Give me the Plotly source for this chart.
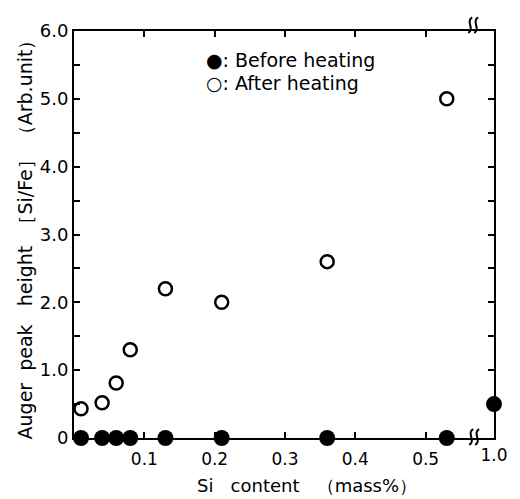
import plotly.graph_objects as go

# ---- data ----
si_content = [0.01, 0.04, 0.06, 0.08, 0.13, 0.21, 0.36, 0.53]
before_heating = [0, 0, 0, 0, 0, 0, 0, 0]
after_heating = [0.43, 0.52, 0.81, 1.3, 2.2, 2.0, 2.6, 5.0]
si_content_high = [1.0]
before_heating_high = [0.5]

x_ticks = [0.1, 0.2, 0.3, 0.4, 0.5]
x_tick_labels = ["0.1", "0.2", "0.3", "0.4", "0.5"]
y_ticks = [0, 0.5, 1, 1.5, 2, 2.5, 3, 3.5, 4, 4.5, 5, 5.5, 6]
y_tick_labels = ["0", "", "1.0", "", "2.0", "", "3.0", "", "4.0", "", "5.0", "", "6.0"]

# page body has an 8px default margin
OFF = 8
W, H = 520 - OFF, 499 - OFF
PL, PR, PT, PB = 74, 498, 21, 438          # plot box in window pixels
L, T = PL - OFF, PT - OFF
R = W - (PR - OFF)
B = H - (PB - OFF)
PW, PH = PR - PL, PB - PT


def fx(px):
    return (px - PL) / PW


def fy(py):
    return (PB - py) / PH


FONT = "DejaVu Sans"

fig = go.Figure()
fig.add_trace(go.Scatter(
    x=si_content, y=after_heating, mode="markers", name="After heating",
    marker=dict(symbol="circle-open", size=13, color="black", line=dict(width=2.5, color="black")),
    cliponaxis=False, showlegend=False))
fig.add_trace(go.Scatter(
    x=si_content, y=before_heating, mode="markers", name="Before heating",
    marker=dict(symbol="circle", size=16, color="black"),
    cliponaxis=False, showlegend=False))
fig.add_trace(go.Scatter(
    x=si_content_high, y=before_heating_high, mode="markers", name="Before heating",
    xaxis="x2", yaxis="y",
    marker=dict(symbol="circle", size=16, color="black"),
    cliponaxis=False, showlegend=False))

# break symbols (two wavy strokes) at top and bottom
shapes = []
for (cx, cy) in [(477, 15), (478, 437)]:
    for dx in (-3, 3):
        x = cx + dx
        path = (f"M {fx(x-2)},{fy(cy+8)} C {fx(x+5)},{fy(cy+4)} "
                f"{fx(x-5)},{fy(cy-4)} {fx(x+2)},{fy(cy-8)}")
        shapes.append(dict(type="path", xref="paper", yref="paper", path=path,
                           line=dict(color="black", width=2)))

annotations = [
    dict(text="Auger  peak   height  ［Si/Fe］ （Arb.unit）", xref="paper", yref="paper",
         x=fx(25), y=fy(230), textangle=-90, showarrow=False,
         font=dict(family=FONT, size=19, color="black"), xanchor="center", yanchor="middle"),
    dict(text="Si   content   （mass%）", xref="paper", yref="paper",
         x=fx(309), y=fy(487), showarrow=False,
         font=dict(family=FONT, size=18, color="black"), xanchor="center", yanchor="middle"),
    dict(text="●: Before heating", xref="paper", yref="paper",
         x=fx(205), y=fy(51), showarrow=False, xanchor="left", yanchor="middle",
         font=dict(family=FONT, size=19, color="black")),
    dict(text="○: After heating", xref="paper", yref="paper",
         x=fx(205), y=fy(74), showarrow=False, xanchor="left", yanchor="middle",
         font=dict(family=FONT, size=19, color="black")),
]

fig.update_layout(
    width=W, height=H,
    margin=dict(l=L, r=R, t=T, b=B),
    paper_bgcolor="white", plot_bgcolor="white",
    font=dict(family=FONT, color="black"),
    xaxis=dict(range=[0, PW / 710], tickvals=x_ticks, ticktext=x_tick_labels,
               ticks="inside", ticklen=6, tickwidth=1.5, tickcolor="black",
               showline=True, linecolor="black", linewidth=2, mirror="ticks",
               showgrid=False, zeroline=False, ticklabelstandoff=5,
               tickfont=dict(family=FONT, size=17, color="black")),
    xaxis2=dict(range=[0.9, 1.0], overlaying="x", anchor="y", side="bottom",
                tickvals=[1.0], ticktext=["1.0"], ticks="", showline=False,
                showgrid=False, zeroline=False, ticklabelstandoff=5,
                tickfont=dict(family=FONT, size=17, color="black")),
    yaxis=dict(range=[0, 6], tickvals=y_ticks, ticktext=y_tick_labels,
               ticks="inside", ticklen=6, tickwidth=1.5, tickcolor="black",
               showline=True, linecolor="black", linewidth=2, mirror="ticks",
               showgrid=False, zeroline=False,
               tickfont=dict(family=FONT, size=18, color="black")),
    shapes=shapes,
    annotations=annotations,
    showlegend=False,
)

fig.write_html("out.html")
